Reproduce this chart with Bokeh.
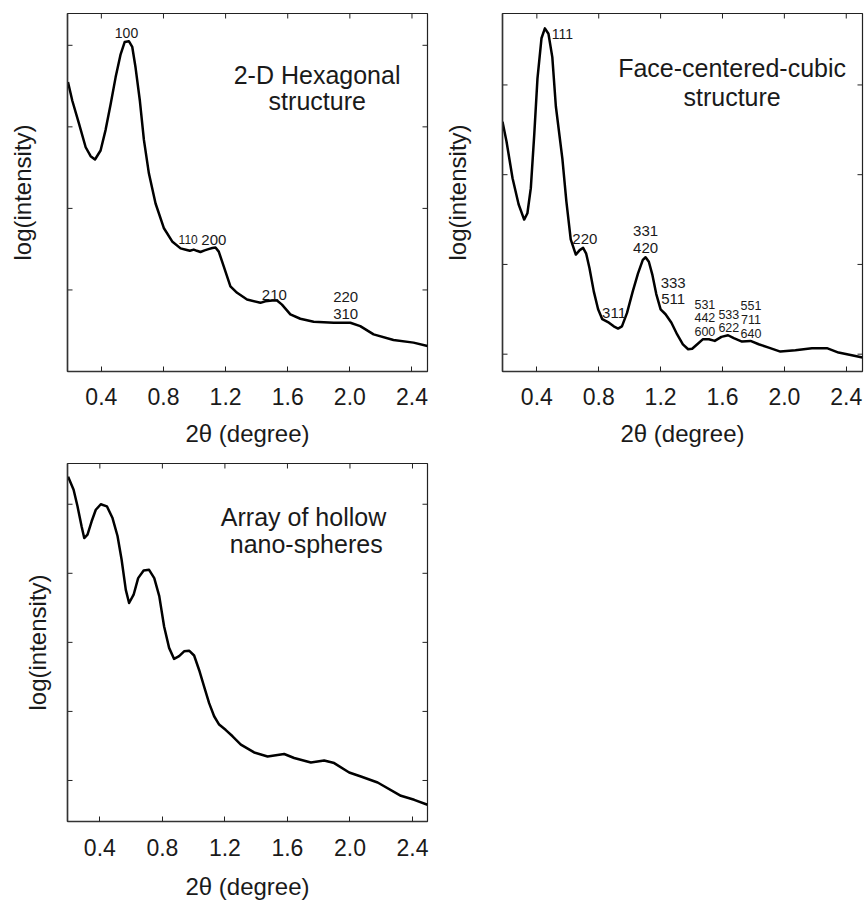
import math
from bokeh.plotting import figure
from bokeh.models import Range1d, FixedTicker, NumeralTickFormatter, ColumnDataSource
from bokeh.layouts import column, row
from bokeh.embed import file_html
from bokeh.resources import INLINE
from bokeh.core.properties import value

FONT = "Liberation Sans"
TXT = "#1a1a1a"

x_ticks = [0.4, 0.8, 1.2, 1.6, 2.0, 2.4]

# ---- Panel 1: 2-D hexagonal ----
hex_x = [0.185, 0.213, 0.256, 0.299, 0.331, 0.359, 0.395, 0.427, 0.46, 0.492, 0.524,
         0.55, 0.577, 0.599, 0.62, 0.648, 0.674, 0.706, 0.749, 0.802, 0.856, 0.91,
         0.95, 0.97, 0.995, 1.015, 1.038, 1.065, 1.09, 1.115, 1.135, 1.156, 1.188, 1.231,
         1.274, 1.338, 1.424, 1.456, 1.50, 1.531, 1.563, 1.617, 1.681, 1.767, 1.896, 2.003,
         2.067, 2.153, 2.281, 2.41, 2.5]
hex_y = [3.55, 3.32, 3.04, 2.75, 2.64, 2.60, 2.71, 2.96, 3.28, 3.61, 3.89,
         4.04, 4.05, 3.98, 3.73, 3.32, 2.84, 2.43, 2.06, 1.76, 1.595, 1.51,
         1.49, 1.48, 1.495, 1.48, 1.465, 1.485, 1.50, 1.515, 1.52, 1.47, 1.29, 1.045,
         0.965, 0.883, 0.842, 0.862, 0.872, 0.87, 0.82, 0.70, 0.647, 0.61, 0.598, 0.598,
         0.557, 0.455, 0.386, 0.354, 0.313]
hex_labels = ["100", "110", "200", "210", "220", "310"]
hex_lab_x = [0.562, 0.959, 1.124, 1.514, 1.973, 1.973]
hex_lab_y = [4.15, 1.62, 1.615, 0.944, 0.911, 0.70]
hex_lab_size = ["14px", "12px", "15px", "15px", "15px", "15px"]
hex_title = ["2-D Hexagonal", "structure"]
hex_title_x = [1.789, 1.79]
hex_title_y = [3.64, 3.32]
hex_yticks = [1, 2, 3, 4]

# ---- Panel 2: face-centred cubic ----
fcc_x = [0.178, 0.204, 0.243, 0.282, 0.318, 0.339, 0.361, 0.383, 0.404, 0.43, 0.452,
         0.475, 0.50, 0.523, 0.565, 0.591, 0.619, 0.652, 0.677, 0.699, 0.719, 0.74,
         0.768, 0.796, 0.823, 0.866, 0.897, 0.925, 0.95, 0.983, 1.02, 1.054, 1.085, 1.103,
         1.124, 1.146, 1.172, 1.20, 1.232, 1.27, 1.307, 1.344, 1.378, 1.404, 1.437, 1.474,
         1.512, 1.55, 1.593, 1.636, 1.673, 1.726, 1.781, 1.834, 1.899, 1.974, 2.071, 2.178,
         2.275, 2.35, 2.436, 2.505]
fcc_y = [3.59, 3.37, 2.96, 2.67, 2.50, 2.57, 2.85, 3.44, 4.07, 4.52, 4.63,
         4.57, 4.31, 3.76, 3.18, 2.70, 2.28, 2.11, 2.16, 2.184, 2.12, 1.96,
         1.70, 1.50, 1.39, 1.351, 1.31, 1.285, 1.31, 1.46, 1.70, 1.90, 2.05, 2.08,
         2.03, 1.89, 1.67, 1.50, 1.445, 1.35, 1.22, 1.11, 1.055, 1.06, 1.11, 1.167,
         1.167, 1.148, 1.193, 1.211, 1.178, 1.14, 1.148, 1.111, 1.073, 1.029, 1.044, 1.067,
         1.067, 1.018, 0.989, 0.962]
fcc_labels = ["111", "220", "331", "420", "333", "511", "311",
              "531", "442", "600", "533", "622", "551", "711", "640"]
fcc_lab_x = [0.565, 0.71, 1.103, 1.103, 1.281, 1.281, 0.899,
             1.486, 1.486, 1.486, 1.641, 1.641, 1.784, 1.784, 1.784]
fcc_lab_y = [4.567, 2.278, 2.378, 2.184, 1.796, 1.618, 1.462,
             1.556, 1.407, 1.248, 1.444, 1.296, 1.544, 1.381, 1.229]
fcc_lab_size = ["14px", "15px", "15px", "15px", "15px", "15px", "15px",
                "12.5px", "12.5px", "12.5px", "12.5px", "12.5px", "12.5px", "12.5px", "12.5px"]
fcc_title = ["Face-centered-cubic", "structure"]
fcc_title_x = [1.662, 1.662]
fcc_title_y = [4.184, 3.87]
fcc_yticks = [1, 2, 3, 4]

# ---- Panel 3: hollow nano-spheres ----
hol_x = [0.197, 0.232, 0.257, 0.283, 0.30, 0.321, 0.347, 0.374, 0.406, 0.445, 0.481,
         0.513, 0.539, 0.566, 0.587, 0.616, 0.645, 0.68, 0.715, 0.748, 0.78, 0.811,
         0.843, 0.875, 0.907, 0.939, 0.971, 1.003, 1.035, 1.067, 1.099, 1.131, 1.163,
         1.206, 1.249, 1.302, 1.387, 1.473, 1.579, 1.643, 1.75, 1.835, 1.899, 1.995,
         2.07, 2.177, 2.326, 2.411, 2.496]
hol_y = [5.40, 5.21, 4.97, 4.68, 4.51, 4.56, 4.75, 4.92, 5.0, 4.97, 4.80,
         4.54, 4.20, 3.76, 3.57, 3.69, 3.93, 4.04, 4.05, 3.93, 3.67, 3.23,
         2.92, 2.76, 2.80, 2.87, 2.88, 2.81, 2.60, 2.36, 2.12, 1.93, 1.81,
         1.73, 1.64, 1.52, 1.406, 1.348, 1.383, 1.325, 1.261, 1.29, 1.252, 1.116,
         1.058, 0.971, 0.778, 0.72, 0.648]
hol_title = ["Array of hollow", "nano-spheres"]
hol_title_x = [1.703, 1.72]
hol_title_y = [4.817, 4.426]
hol_yticks = [1, 2, 3, 4, 5]

TICK_LEN = 5


def panel(xs, ys, xr, yr, yticks, labels, lab_x, lab_y, lab_size, title, tx, ty,
          borders, ylabel_standoff, xlabel_standoff, tick_standoff):
    bl, br, bt, bb = borders
    p = figure(frame_width=360, frame_height=358, output_backend="svg",
               toolbar_location=None, x_range=Range1d(*xr), y_range=Range1d(*yr),
               min_border_left=bl, min_border_right=br, min_border_top=bt,
               min_border_bottom=bb, background_fill_color="white",
               border_fill_color="white")
    p.xgrid.visible = False
    p.ygrid.visible = False
    p.outline_line_color = "#222222"
    p.outline_line_width = 1.2

    xa = p.xaxis[0]
    xa.ticker = FixedTicker(ticks=x_ticks)
    xa.formatter = NumeralTickFormatter(format="0.0")
    xa.axis_label = "2θ (degree)"
    xa.axis_label_text_font = FONT
    xa.axis_label_text_font_style = "normal"
    xa.axis_label_text_font_size = "24px"
    xa.axis_label_text_color = TXT
    xa.axis_label_standoff = xlabel_standoff
    xa.major_label_text_font = FONT
    xa.major_label_text_font_size = "23px"
    xa.major_label_text_color = TXT
    xa.major_label_standoff = tick_standoff
    xa.major_tick_in = TICK_LEN
    xa.major_tick_out = 0
    xa.minor_tick_line_color = None
    xa.axis_line_color = "#333333"
    xa.axis_line_width = 1.5
    xa.major_tick_line_color = "#222222"

    ya = p.yaxis[0]
    ya.ticker = FixedTicker(ticks=[])
    ya.axis_label = "log(intensity)"
    ya.axis_label_text_font = FONT
    ya.axis_label_text_font_style = "normal"
    ya.axis_label_text_font_size = "24px"
    ya.axis_label_text_color = TXT
    ya.axis_label_standoff = ylabel_standoff
    ya.major_label_standoff = 0
    ya.major_tick_in = 0
    ya.major_tick_out = 0
    ya.minor_tick_line_color = None
    ya.axis_line_color = "#333333"
    ya.axis_line_width = 1.5

    # inward tick marks on left, right and top edges, placed at the tick values
    n = len(yticks)
    p.ray(x=[xr[0]] * n, y=yticks, length=TICK_LEN, length_units="screen", angle=0,
          line_color="#222222", line_width=1)
    p.ray(x=[xr[1]] * n, y=yticks, length=TICK_LEN, length_units="screen", angle=math.pi,
          line_color="#222222", line_width=1)
    m = len(x_ticks)
    p.ray(x=x_ticks, y=[yr[1]] * m, length=TICK_LEN, length_units="screen",
          angle=-math.pi / 2, line_color="#222222", line_width=1)

    p.line(xs, ys, line_color="black", line_width=2.5, line_join="round")

    if labels:
        src = ColumnDataSource(dict(x=lab_x, y=lab_y, t=labels, s=lab_size))
        p.text(x="x", y="y", text="t", text_font_size="s", source=src,
               text_font=value(FONT), text_color=TXT, text_align="center",
               text_baseline="middle")
    tsrc = ColumnDataSource(dict(x=tx, y=ty, t=title))
    p.text(x="x", y="y", text="t", source=tsrc, text_font=value(FONT),
           text_font_size="25px", text_color=TXT, text_align="center",
           text_baseline="middle")
    return p


p1 = panel(hex_x, hex_y, (0.182, 2.5), (0.0, 4.39), hex_yticks, hex_labels, hex_lab_x,
           hex_lab_y, hex_lab_size, hex_title, hex_title_x, hex_title_y,
           (67, 12, 13, 78), 32, 12, 16)
p2 = panel(fcc_x, fcc_y, (0.178, 2.505), (0.807, 4.796), fcc_yticks, fcc_labels, fcc_lab_x,
           fcc_lab_y, fcc_lab_size, fcc_title, fcc_title_x, fcc_title_y,
           (63, 2, 12, 79), 32, 12, 16)
p3 = panel(hol_x, hol_y, (0.193, 2.496), (0.406, 5.59), hol_yticks, None, None, None, None,
           hol_title, hol_title_x, hol_title_y,
           (67, 12, 14, 81), 17, 14, 17)

layout = column(row(p1, p2), p3)
open("out.html", "w").write(file_html(layout, INLINE))
